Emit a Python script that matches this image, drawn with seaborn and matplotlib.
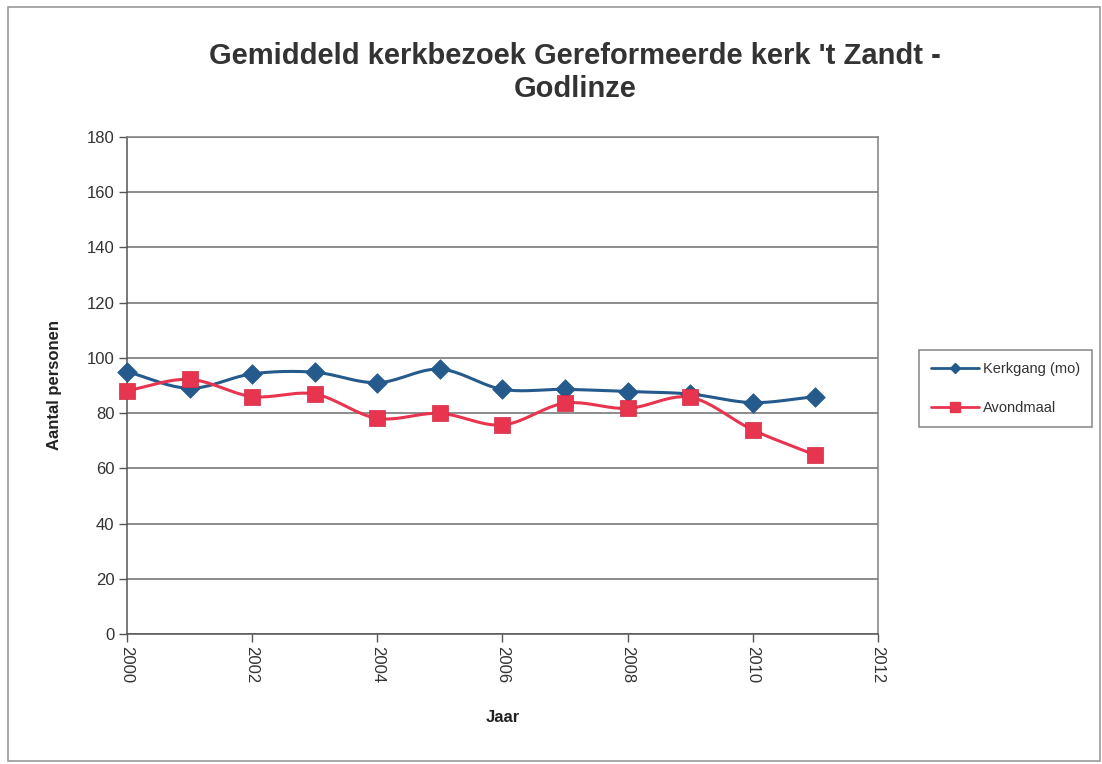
import numpy as np
import pandas as pd
import matplotlib
matplotlib.use("Agg")
import matplotlib.pyplot as plt
import seaborn as sns
from matplotlib.lines import Line2D
from matplotlib.patches import Rectangle

years = [2000, 2001, 2002, 2003, 2004, 2005, 2006, 2007, 2008, 2009, 2010, 2011]
kerkgang = [95.0, 89.0, 94.2, 94.8, 91.0, 95.9, 88.6, 88.6, 87.8, 86.9, 83.8, 86.0]
avondmaal = [88.1, 92.2, 86.0, 86.9, 78.1, 79.9, 75.7, 83.6, 81.7, 85.7, 73.9, 64.8]
series_names = ["Kerkgang (mo)", "Avondmaal"]
x_ticks = [2000, 2002, 2004, 2006, 2008, 2010, 2012]
y_ticks = [0, 20, 40, 60, 80, 100, 120, 140, 160, 180]

BLUE = "#245a8c"
RED = "#e8354f"


def smooth(xs, ys, n=20):
    """Catmull-Rom curve through the points (like Excel's smoothed line)."""
    xs = np.asarray(xs, float)
    ys = np.asarray(ys, float)
    px = np.concatenate([[2 * xs[0] - xs[1]], xs, [2 * xs[-1] - xs[-2]]])
    py = np.concatenate([[2 * ys[0] - ys[1]], ys, [2 * ys[-1] - ys[-2]]])
    ox, oy = [], []
    for i in range(1, len(px) - 2):
        t = np.linspace(0, 1, n, endpoint=False)
        for P, out in ((px, ox), (py, oy)):
            p0, p1, p2, p3 = P[i - 1], P[i], P[i + 1], P[i + 2]
            out.extend(0.5 * ((2 * p1) + (-p0 + p2) * t
                              + (2 * p0 - 5 * p1 + 4 * p2 - p3) * t ** 2
                              + (-p0 + 3 * p1 - 3 * p2 + p3) * t ** 3))
    ox.append(xs[-1])
    oy.append(ys[-1])
    return np.array(ox), np.array(oy)


sns.set_theme(style="white")
plt.rcParams["font.family"] = ["Liberation Sans", "DejaVu Sans"]

fig = plt.figure(figsize=(11.02, 7.64), dpi=100)
ax = fig.add_axes([0.1152, 0.1702, 0.6815, 0.6505])

frames = []
for name, vals in zip(series_names, [kerkgang, avondmaal]):
    sx, sy = smooth(years, vals)
    frames.append(pd.DataFrame({"Jaar": sx, "val": sy, "serie": name}))
curve = pd.concat(frames)
pts = pd.DataFrame({
    "Jaar": years * 2,
    "val": kerkgang + avondmaal,
    "serie": [series_names[0]] * len(years) + [series_names[1]] * len(years),
})

palette = {series_names[0]: BLUE, series_names[1]: RED}
sns.lineplot(data=curve, x="Jaar", y="val", hue="serie", palette=palette,
             linewidth=2.2, sort=False, estimator=None, legend=False, ax=ax)
sns.scatterplot(data=pts[pts.serie == series_names[0]], x="Jaar", y="val",
                color=BLUE, marker="D", s=100, edgecolor=BLUE, linewidth=0.5,
                legend=False, ax=ax, zorder=3, clip_on=False)
sns.scatterplot(data=pts[pts.serie == series_names[1]], x="Jaar", y="val",
                color=RED, marker="s", s=140, edgecolor="#d02a44", linewidth=0.5,
                legend=False, ax=ax, zorder=3, clip_on=False)

ax.set_xlim(2000, 2012)
ax.set_ylim(0, 180)
ax.set_xticks(x_ticks)
ax.set_yticks(y_ticks)
ax.set_xticklabels([str(t) for t in x_ticks], rotation=-90, fontsize=12, color="#333333")
ax.set_yticklabels([str(t) for t in y_ticks], fontsize=12, color="#333333")
ax.yaxis.grid(True, color="#6e6e6e", linewidth=1.1)
ax.xaxis.grid(False)
ax.set_axisbelow(True)
for sp in ax.spines.values():
    sp.set_color("#808080")
    sp.set_linewidth(1.1)
ax.spines["left"].set_color("#555555")
ax.spines["bottom"].set_color("#555555")
ax.tick_params(axis="both", which="both", direction="out", length=6, width=1,
               color="#555555", bottom=True, left=True, pad=3)

ax.set_xlabel("Jaar", fontsize=12, fontweight="bold", color="#222222", labelpad=19)
ax.set_ylabel("Aantal personen", fontsize=12, fontweight="bold", color="#222222", labelpad=18)

fig.text(0.522, 0.927, "Gemiddeld kerkbezoek Gereformeerde kerk 't Zandt -",
         ha="center", va="center", fontsize=21, fontweight="bold", color="#333333")
fig.text(0.522, 0.884, "Godlinze", ha="center", va="center",
         fontsize=21, fontweight="bold", color="#333333")

handles = [
    Line2D([], [], color=BLUE, linewidth=2, marker="D", markersize=5),
    Line2D([], [], color=RED, linewidth=2, marker="s", markersize=7),
]
leg = fig.legend(handles, series_names, loc="center left",
                 bbox_to_anchor=(0.834, 0.4915), frameon=True, fancybox=False,
                 fontsize=10.5, handlelength=3.3, labelspacing=1.75,
                 borderpad=0.8, handletextpad=0.3, borderaxespad=0)
leg.get_frame().set_edgecolor("#666666")
leg.get_frame().set_linewidth(1.1)
for t in leg.get_texts():
    t.set_color("#333333")

fig.patches.append(Rectangle((0.007, 0.004), 0.991, 0.987, transform=fig.transFigure,
                             fill=False, edgecolor="#9a9a9a", linewidth=1.2))

fig.savefig("out.png", dpi=100)
